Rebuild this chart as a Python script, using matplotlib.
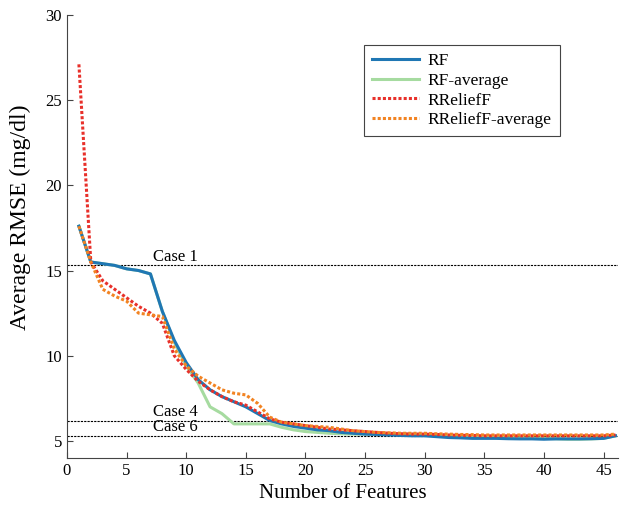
import matplotlib.pyplot as plt
import numpy as np

plt.rcParams['font.family'] = ['Liberation Serif', 'DejaVu Serif']

n_features = np.arange(1, 47)

rf = [17.6, 15.5, 15.4, 15.3, 15.1, 15.0, 14.8, 12.6, 10.9, 9.6,
      8.6, 8.0, 7.6, 7.3, 7.0, 6.6, 6.2, 6.0, 5.85, 5.75,
      5.65, 5.6, 5.5, 5.45, 5.4, 5.38, 5.35, 5.32, 5.3, 5.3,
      5.25, 5.2, 5.18, 5.15, 5.15, 5.15, 5.13, 5.12, 5.12, 5.1,
      5.12, 5.12, 5.12, 5.13, 5.15, 5.3]
rf_avg = [17.6, 15.5, 15.4, 15.3, 15.1, 15.0, 14.8, 12.6, 10.8, 9.4,
          8.4, 7.0, 6.6, 6.0, 6.0, 6.0, 6.0, 5.8, 5.65, 5.55,
          5.5, 5.45, 5.42, 5.4, 5.4, 5.4, 5.4, 5.4, 5.4, 5.38,
          5.35, 5.3, 5.28, 5.25, 5.22, 5.2, 5.18, 5.17, 5.15, 5.15,
          5.13, 5.1, 5.1, 5.12, 5.15, 5.3]
rrelieff = [27.1, 15.5, 14.4, 13.9, 13.4, 12.9, 12.5, 11.9, 10.0, 9.2,
            8.5, 8.0, 7.6, 7.3, 7.1, 6.7, 6.3, 6.1, 6.0, 5.9,
            5.8, 5.7, 5.65, 5.6, 5.55, 5.5, 5.45, 5.42, 5.4, 5.4,
            5.38, 5.35, 5.33, 5.32, 5.3, 5.3, 5.3, 5.3, 5.3, 5.3,
            5.3, 5.3, 5.3, 5.3, 5.3, 5.35]
rrelieff_avg = [17.6, 15.5, 13.9, 13.5, 13.2, 12.5, 12.4, 12.3, 10.4, 9.4,
                8.8, 8.4, 8.0, 7.8, 7.7, 7.2, 6.4, 6.1, 6.0, 5.9,
                5.85, 5.8, 5.7, 5.6, 5.55, 5.5, 5.48, 5.45, 5.45, 5.45,
                5.42, 5.4, 5.38, 5.37, 5.35, 5.35, 5.35, 5.35, 5.35, 5.35,
                5.35, 5.35, 5.35, 5.35, 5.35, 5.4]

case_names = ['Case 1', 'Case 4', 'Case 6']
case_levels = [15.3, 6.17, 5.3]

fig = plt.figure(figsize=(6.26, 5.14), dpi=100)
ax = fig.add_axes([0.107, 0.109, 0.880, 0.862])

ax.plot(n_features, rf_avg, color='#a6dba0', lw=2.2, label='RF-average', zorder=2)
ax.plot(n_features, rf, color='#1f77b4', lw=2.2, label='RF', zorder=3)
ax.plot(n_features, rrelieff, color='#e8302a', lw=2.2, ls=(0, (1, 0.7)),
        label='RReliefF', zorder=4)
ax.plot(n_features, rrelieff_avg, color='#f28322', lw=2.2, ls=(0, (1, 0.7)),
        label='RReliefF-average', zorder=5)

for level in case_levels:
    ax.axhline(level, color='black', lw=0.8, ls=(0, (2, 1)), zorder=1)
ax.text(7.2, case_levels[0] + 0.05, case_names[0], fontsize=12, va='bottom')
ax.text(7.2, case_levels[1] + 0.05, case_names[1], fontsize=12, va='bottom')
ax.text(7.2, case_levels[2] + 0.02, case_names[2], fontsize=12, va='bottom')

ax.set_xlim(0, 46.2)
ax.set_ylim(4, 30)
ax.set_xticks(np.arange(0, 46, 5))
ax.set_yticks(np.arange(5, 31, 5))
ax.tick_params(direction='in', labelsize=12, length=4, color='#444444')
ax.spines['top'].set_visible(False)
ax.spines['right'].set_visible(False)
for s in ('left', 'bottom'):
    ax.spines[s].set_color('#444444')
ax.set_xlabel('Number of Features', fontsize=15)
ax.set_ylabel('Average RMSE (mg/dl)', fontsize=17)
ax.yaxis.set_label_coords(-0.065, 0.544)

handles, labels = ax.get_legend_handles_labels()
order = [1, 0, 2, 3]
leg = ax.legend([handles[i] for i in order], [labels[i] for i in order],
                loc='upper right', bbox_to_anchor=(0.91, 0.951), fontsize=12.5,
                fancybox=False, edgecolor='#444444', framealpha=1,
                handlelength=2.7, borderpad=0.45, labelspacing=0.2,
                handletextpad=0.5)
leg.get_frame().set_linewidth(0.8)

fig.savefig('out.png', dpi=100)
